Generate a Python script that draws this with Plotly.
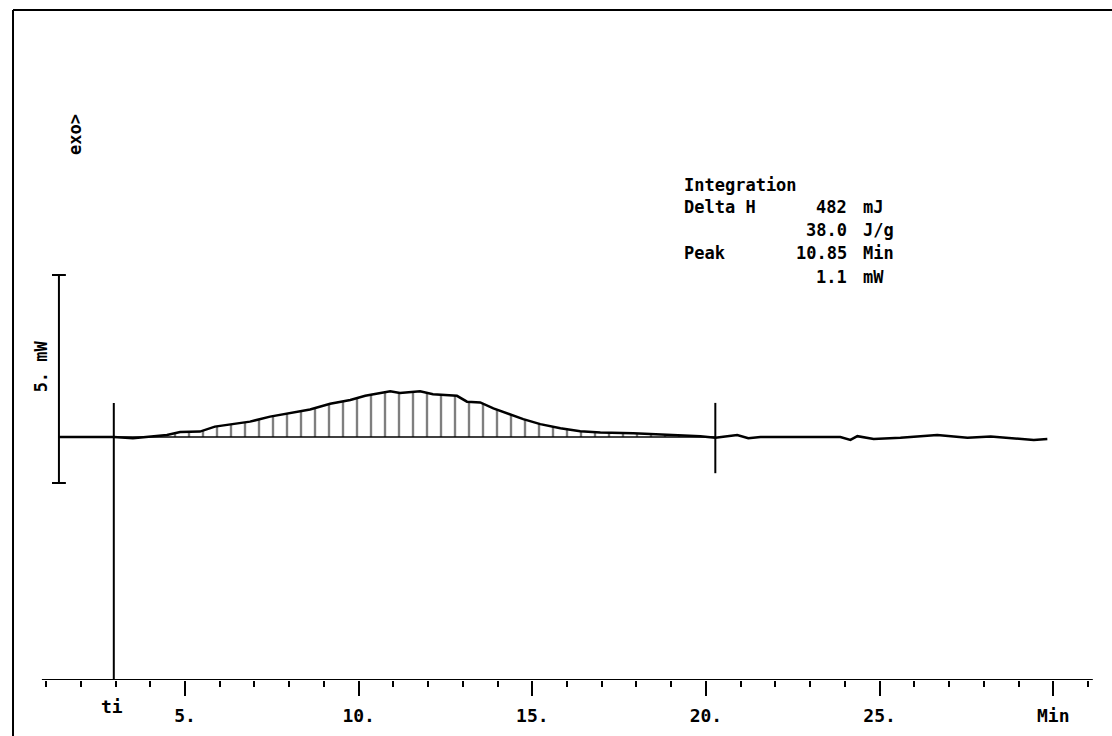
import plotly.graph_objects as go

# ---- data ----
time_min = [1.37, 2.20, 2.95, 3.50, 3.99, 4.48, 4.86, 5.43, 5.86, 6.59, 6.87, 7.45, 8.03,
            8.60, 9.18, 9.76, 10.19, 10.91, 11.19, 11.77, 12.14, 12.83, 13.12, 13.50,
            13.88, 14.27, 14.74, 15.23, 15.81, 16.38, 16.96, 17.91, 18.89, 19.84, 20.27,
            20.90, 21.22, 21.57, 23.87, 24.16, 24.36, 24.83, 25.60, 26.66, 27.53, 28.20,
            29.44, 29.83]
heat_mw = [0.00, 0.00, 0.00, -0.03, 0.01, 0.05, 0.12, 0.13, 0.25, 0.34, 0.37, 0.49, 0.57,
           0.66, 0.80, 0.89, 0.99, 1.10, 1.06, 1.10, 1.03, 0.99, 0.85, 0.83,
           0.69, 0.57, 0.43, 0.31, 0.21, 0.14, 0.11, 0.09, 0.05, 0.02, -0.02,
           0.05, -0.03, 0.00, 0.00, -0.07, 0.02, -0.05, -0.02, 0.05, -0.02, 0.01,
           -0.07, -0.05]

t_start = 2.95     # ti
t_end = 20.27      # integration end
scale_bottom = -1.106
scale_mw = 5.0

major_ticks = [5, 10, 15, 20, 25, 30]
major_labels = ["5.", "10.", "15.", "20.", "25.", "Min"]
minor_ticks = [1, 2, 3, 4, 6, 7, 8, 9, 11, 12, 13, 14, 16, 17, 18, 19,
               21, 22, 23, 24, 26, 27, 28, 29, 31]

result_labels = ["Delta H", "", "Peak", ""]
result_values = ["482", "38.0", "10.85", "1.1"]
result_units = ["mJ", "J/g", "Min", "mW"]

# ---- layout constants ----
X_RANGE = [-0.3268, 31.692]
Y_RANGE = [-5.841, 10.505]
AXIS_Y = Y_RANGE[0]
FONT = "DejaVu Sans Mono"
BLACK = "black"

fig = go.Figure()

# integration region (hatched)
seg_x = [t for t in time_min if t_start <= t <= t_end]
seg_y = [h for t, h in zip(time_min, heat_mw) if t_start <= t <= t_end]
fig.add_trace(go.Scatter(
    x=seg_x, y=seg_y, mode="lines", line=dict(width=0),
    fill="tozeroy", fillcolor="rgba(0,0,0,0)",
    fillpattern=dict(shape="|", size=14, solidity=0.17, fgcolor=BLACK,
                     bgcolor="rgba(0,0,0,0)", fillmode="overlay"),
    hoverinfo="skip", showlegend=False))

# baseline of integration
fig.add_trace(go.Scatter(x=[t_start, t_end], y=[0, 0], mode="lines",
                         line=dict(color=BLACK, width=1.5), showlegend=False))

# DSC curve
fig.add_trace(go.Scatter(x=time_min, y=heat_mw, mode="lines",
                         line=dict(color=BLACK, width=2.5), showlegend=False))

shapes = []
# scale bar
sx = time_min[0]
shapes.append(dict(type="line", x0=sx, x1=sx, y0=scale_bottom, y1=scale_bottom + scale_mw,
                   line=dict(color=BLACK, width=2)))
for yy in (scale_bottom, scale_bottom + scale_mw):
    shapes.append(dict(type="line", x0=sx - 0.2, x1=sx + 0.2, y0=yy, y1=yy,
                       line=dict(color=BLACK, width=2)))
# ti and end markers
shapes.append(dict(type="line", x0=t_start, x1=t_start, y0=0.82, y1=AXIS_Y,
                   line=dict(color=BLACK, width=2)))
shapes.append(dict(type="line", x0=t_end, x1=t_end, y0=0.82, y1=-0.87,
                   line=dict(color=BLACK, width=2)))
# time axis line
shapes.append(dict(type="line", x0=0.88, x1=31.14, y0=AXIS_Y, y1=AXIS_Y,
                   line=dict(color=BLACK, width=2)))
# page frame (left + top)
shapes.append(dict(type="line", xref="paper", yref="paper", x0=0.0117, x1=0.0117,
                   y0=-0.0824, y1=0.9853, line=dict(color=BLACK, width=2)))
shapes.append(dict(type="line", xref="paper", yref="paper", x0=0.0117, x1=1.0,
                   y0=0.9853, y1=0.9853, line=dict(color=BLACK, width=2)))

txt = dict(family=FONT, size=17, color=BLACK, weight="bold")
annotations = [
    dict(x=19.34, y=6.07, text="Integration", xanchor="left", yanchor="middle",
         showarrow=False, font=txt, borderpad=0),
]
rows_y = [5.52, 4.98, 4.42, 3.85]
for lab, val, unit, yy in zip(result_labels, result_values, result_units, rows_y):
    if lab:
        annotations.append(dict(x=19.34, y=yy, text=lab, xanchor="left", yanchor="middle",
                                showarrow=False, font=txt, borderpad=0))
    annotations.append(dict(x=24.09, y=yy, text=val, xanchor="right", yanchor="middle",
                            showarrow=False, font=txt, borderpad=0))
    annotations.append(dict(x=24.49, y=yy, text=unit, xanchor="left", yanchor="middle",
                            showarrow=False, font=txt, borderpad=0))
side_font = dict(family=FONT, size=17, color=BLACK, weight="bold")
annotations.append(dict(x=1.833, y=7.26, text="exo>", textangle=-90, showarrow=False,
                        xanchor="center", yanchor="middle", font=side_font))
annotations.append(dict(x=0.839, y=1.71, text="5. mW", textangle=-90, showarrow=False,
                        xanchor="center", yanchor="middle", font=side_font))
annotations.append(dict(x=2.90, xref="x", y=-0.0397, yref="paper", text="ti", showarrow=False,
                        xanchor="center", yanchor="middle",
                        font=dict(family=FONT, size=18, color=BLACK, weight="bold")))

fig.update_layout(
    width=1112, height=736, template="none",
    margin=dict(l=0, r=0, t=0, b=56, pad=0),
    paper_bgcolor="white", plot_bgcolor="white",
    showlegend=False, shapes=shapes, annotations=annotations,
    xaxis=dict(range=X_RANGE, showgrid=False, zeroline=False, showline=False,
               tickmode="array", tickvals=major_ticks, ticktext=major_labels,
               ticks="outside", ticklen=15, tickwidth=2, tickcolor=BLACK,
               ticklabelstandoff=4, automargin=False,
               tickfont=dict(family=FONT, size=18, color=BLACK, weight="bold"),
               minor=dict(tickmode="array", tickvals=minor_ticks, ticks="outside",
                          ticklen=6, tickwidth=2, tickcolor=BLACK, showgrid=False)),
    yaxis=dict(range=Y_RANGE, visible=False, showgrid=False, zeroline=False,
               automargin=False),
)

fig.write_html("out.html")
